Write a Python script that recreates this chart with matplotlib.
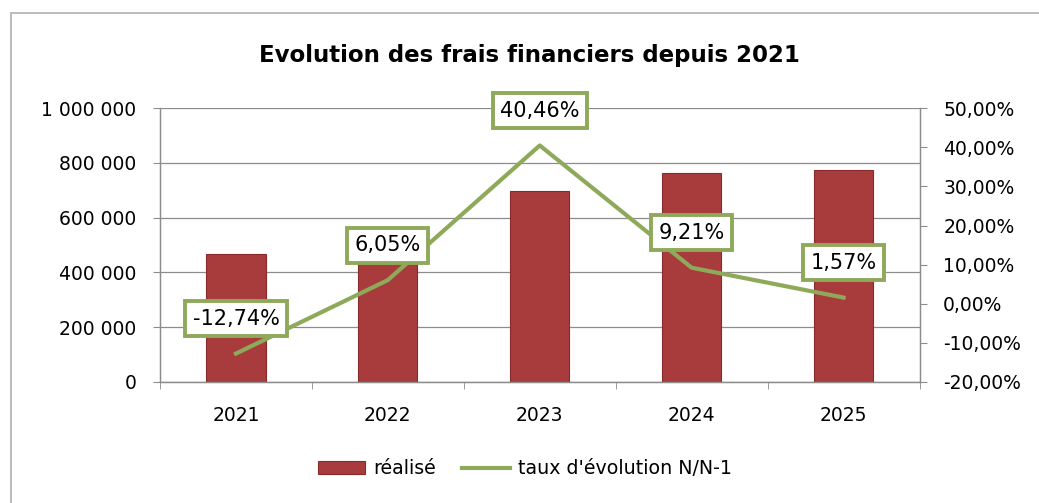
import matplotlib
matplotlib.use('Agg')
import matplotlib.pyplot as plt
import matplotlib.ticker as mticker
from matplotlib.patches import Rectangle

years = ['2021', '2022', '2023', '2024', '2025']
realise = [469000, 497000, 698000, 762000, 774000]
taux = [-12.74, 6.05, 40.46, 9.21, 1.57]
taux_labels = ['-12,74%', '6,05%', '40,46%', '9,21%', '1,57%']

BAR_COLOR = '#a83b3b'
BAR_EDGE = '#8a2a2a'
LINE_COLOR = '#8fa95b'
GRID_COLOR = '#8c8c8c'

plt.rcParams['font.family'] = ['DejaVu Sans']


def fmt_left(v, pos):
    return f'{int(v):,}'.replace(',', ' ')


def fmt_right(v, pos):
    return f'{v:.2f}%'.replace('.', ',')


fig = plt.figure(figsize=(10.39, 5.03), dpi=100)
ax = fig.add_axes([0.154, 0.2406, 0.731, 0.5444])
ax2 = ax.twinx()

x = list(range(len(years)))
ax.bar(x, realise, width=0.39, color=BAR_COLOR, edgecolor=BAR_EDGE, linewidth=0.8,
       label='réalisé', zorder=2)
ax.set_xlim(-0.5, 4.5)
ax.set_ylim(0, 1000000)
ax.set_yticks(range(0, 1000001, 200000))
ax.yaxis.set_major_formatter(mticker.FuncFormatter(fmt_left))
ax.grid(axis='y', color=GRID_COLOR, linewidth=0.9, zorder=0)
ax.set_axisbelow(True)

# years centred under the bars, ticks between categories
ax.set_xticks(x)
ax.set_xticklabels(years)
ax.set_xticks([i + 0.5 for i in range(-1, 5)], minor=True)
ax.tick_params(axis='x', which='major', length=0, pad=17, labelsize=13.5)
ax.tick_params(axis='x', which='minor', length=5, color=GRID_COLOR, direction='out')
ax.tick_params(axis='y', length=5, color=GRID_COLOR, labelsize=13.5, pad=12)

ax2.plot(x, taux, color=LINE_COLOR, linewidth=3, label="taux d'évolution N/N-1", zorder=3)
ax2.set_ylim(-20, 50)
ax2.set_yticks(range(-20, 51, 10))
ax2.yaxis.set_major_formatter(mticker.FuncFormatter(fmt_right))
ax2.tick_params(axis='y', length=5, color=GRID_COLOR, labelsize=13.5, pad=12)

for a in (ax, ax2):
    a.spines['top'].set_visible(False)
    for s in ['left', 'right', 'bottom']:
        a.spines[s].set_color(GRID_COLOR)
        a.spines[s].set_linewidth(0.9)

for xi, v, lab in zip(x, taux, taux_labels):
    ax2.annotate(lab, (xi, v), xytext=(0, 25), textcoords='offset points',
                 ha='center', va='center', fontsize=15, zorder=5,
                 bbox=dict(boxstyle='square,pad=0.36', fc='white', ec=LINE_COLOR, lw=2.8))

fig.text(0.51, 0.89, 'Evolution des frais financiers depuis 2021', ha='center', va='center',
         fontsize=16.5, fontweight='bold')

h1, l1 = ax.get_legend_handles_labels()
h2, l2 = ax2.get_legend_handles_labels()
fig.legend(h1 + h2, l1 + l2, loc='center', bbox_to_anchor=(0.505, 0.068), ncol=2,
           frameon=False, fontsize=13.7, handlelength=2.5, columnspacing=1.4, handletextpad=0.4)

fig.patches.append(Rectangle((0.011, -0.05), 1.5, 1.025, transform=fig.transFigure,
                             fill=False, ec='#b0b0b0', lw=1.2))

fig.savefig('out.png', dpi=100)
